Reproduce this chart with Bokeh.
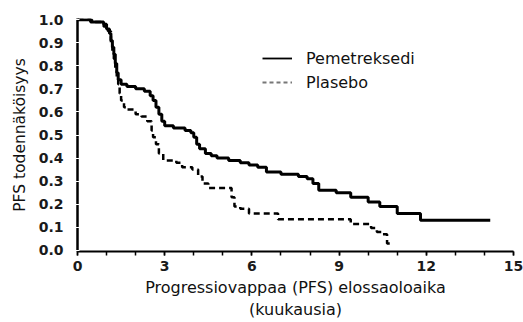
from bokeh.plotting import figure
from bokeh.models import Range1d, FixedTicker, NumeralTickFormatter, Legend, LegendItem
from bokeh.embed import file_html
from bokeh.resources import INLINE

# ---- data ----
pem_t = [0, 0.45, 0.9, 1.0, 1.1, 1.15, 1.2, 1.25, 1.3, 1.35, 1.4, 1.5, 1.7, 2.0, 2.3, 2.5, 2.6, 2.7,
         2.8, 2.9, 3.0, 3.3, 3.7, 3.9, 4.0, 4.1, 4.2, 4.4, 4.6, 4.8, 5.2, 5.6, 5.9, 6.2, 6.5, 7.0,
         7.6, 7.9, 8.1, 8.3, 8.9, 9.4, 10.0, 10.4, 11.0, 11.8, 14.2]
pem_s = [1.0, 0.99, 0.98, 0.96, 0.94, 0.91, 0.88, 0.85, 0.81, 0.77, 0.74, 0.72, 0.71, 0.70, 0.69, 0.67,
         0.65, 0.62, 0.59, 0.56, 0.54, 0.53, 0.52, 0.51, 0.49, 0.46, 0.44, 0.42, 0.41, 0.40, 0.39, 0.38,
         0.37, 0.36, 0.34, 0.33, 0.32, 0.31, 0.29, 0.26, 0.25, 0.23, 0.21, 0.19, 0.16, 0.13, 0.13]

pla_t = [0, 0.5, 0.9, 1.05, 1.15, 1.2, 1.25, 1.3, 1.35, 1.4, 1.45, 1.5, 1.6, 1.7, 2.0, 2.2, 2.4, 2.55,
         2.6, 2.7, 2.8, 2.95, 3.4, 3.6, 3.95, 4.15, 4.3, 4.5, 5.3, 5.4, 5.6, 5.9, 6.9, 9.4, 10.1, 10.3,
         10.5, 10.65, 10.85]
pla_s = [1.0, 0.99, 0.97, 0.95, 0.90, 0.86, 0.83, 0.79, 0.75, 0.72, 0.68, 0.65, 0.62, 0.61, 0.59, 0.58,
         0.56, 0.52, 0.49, 0.46, 0.42, 0.39, 0.38, 0.36, 0.35, 0.32, 0.29, 0.27, 0.23, 0.19, 0.18, 0.16,
         0.135, 0.114, 0.097, 0.08, 0.07, 0.03, 0.03]

x_major = [0, 3, 6, 9, 12, 15]
x_minor = list(range(0, 16))
y_major = [0.0, 0.1, 0.2, 0.3, 0.4, 0.5, 0.6, 0.7, 0.8, 0.9, 1.0]

series_names = ["Pemetreksedi", "Plasebo"]
x_title = "Progressiovappaa (PFS) elossaoloaika\n(kuukausia)"
y_title = "PFS todennäköisyys"

FONT = "DejaVu Sans"
NAN = float("nan")

p = figure(width=523, height=322, output_backend="svg", toolbar_location=None,
           x_range=Range1d(0, 15), y_range=Range1d(-0.005, 1.005),
           min_border_left=77, min_border_right=10, min_border_top=18, min_border_bottom=71)
p.outline_line_color = None
p.grid.grid_line_color = None
p.background_fill_color = "white"
p.border_fill_color = "white"

r_pla = p.step(pla_t, pla_s, mode="after", line_color="black", line_width=2.5, line_dash="6 4")
r_pem = p.step(pem_t, pem_s, mode="after", line_color="black", line_width=3)

# legend-only renderers (thinner lines as in the reference legend); NaN data draws nothing
l_pem = p.line([NAN], [NAN], line_color="black", line_width=1.8)
l_pla = p.line([NAN], [NAN], line_color="#777777", line_width=1.8, line_dash="4 3")
legend = Legend(items=[LegendItem(label=series_names[0], renderers=[l_pem]),
                       LegendItem(label=series_names[1], renderers=[l_pla])],
                location=(185, 157), padding=0, margin=0, spacing=0,
                glyph_width=30, glyph_height=24, label_height=24, label_standoff=14,
                label_text_font=FONT, label_text_font_size="16px", label_text_color="#111111",
                border_line_color=None, background_fill_alpha=0)
p.add_layout(legend)

# x axis
xa = p.xaxis[0]
xa.ticker = FixedTicker(ticks=x_major, minor_ticks=x_minor)
xa.axis_line_width = 2
xa.axis_line_color = "black"
xa.major_tick_out = 4
xa.major_tick_in = 0
xa.minor_tick_out = 4
xa.minor_tick_in = 0
xa.major_tick_line_width = 1.5
xa.minor_tick_line_width = 1.5
xa.major_label_standoff = 5
xa.major_label_text_font = FONT
xa.major_label_text_font_style = "bold"
xa.major_label_text_font_size = "14px"
xa.major_label_text_color = "#1a1a1a"
xa.axis_label = x_title
xa.axis_label_text_font = FONT
xa.axis_label_text_font_style = "normal"
xa.axis_label_text_font_size = "16px"
xa.axis_label_text_color = "#111111"
xa.axis_label_standoff = 4

# y axis
ya = p.yaxis[0]
ya.ticker = FixedTicker(ticks=y_major, minor_ticks=[])
ya.formatter = NumeralTickFormatter(format="0.0")
ya.axis_line_width = 2.5
ya.axis_line_color = "black"
ya.major_tick_line_color = "white"
ya.major_tick_line_width = 1
ya.major_tick_in = 2
ya.major_tick_out = 2
ya.major_label_standoff = 12
ya.major_label_text_font = FONT
ya.major_label_text_font_style = "bold"
ya.major_label_text_font_size = "14px"
ya.major_label_text_color = "#1a1a1a"
ya.axis_label = y_title
ya.axis_label_text_font = FONT
ya.axis_label_text_font_style = "normal"
ya.axis_label_text_font_size = "15.5px"
ya.axis_label_text_color = "#111111"
ya.axis_label_standoff = 7

open("out.html", "w").write(file_html(p, INLINE))
